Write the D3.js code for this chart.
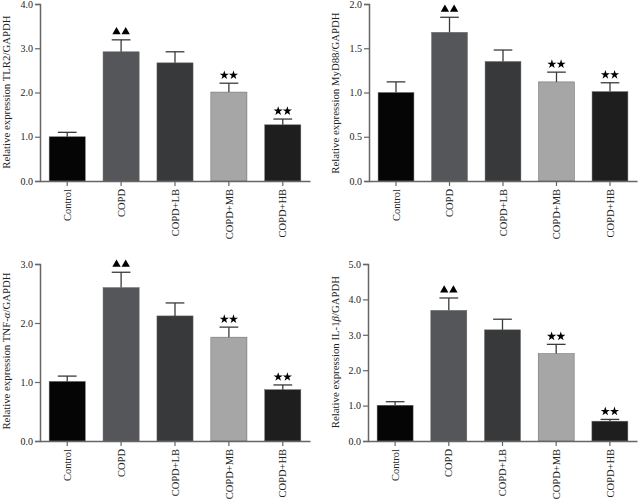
<!DOCTYPE html>
<html>
<head>
<meta charset="utf-8">
<script src="https://cdn.jsdelivr.net/npm/d3@7"></script>
<style>
  body { margin: 0; background: #fff; }
  svg { display: block; }
  .tick text { font-family: "Liberation Serif", "Times New Roman", serif; fill: #222; }
</style>
</head>
<body>
<svg id="chart" width="638" height="503"></svg>
<script>
// groups shared by all four panels
var groups = ["Control", "COPD", "COPD+LB", "COPD+MB", "COPD+HB"];
var barColors = ["#050505", "#55565a", "#38393b", "#a6a6a6", "#1e1e1e"];

// means and upper error (SD)
var tlr2 = [1.00, 2.92, 2.67, 2.01, 1.27];
var tlr2Err = [0.10, 0.27, 0.25, 0.20, 0.13];
var myd88 = [1.00, 1.68, 1.35, 1.12, 1.01];
var myd88Err = [0.12, 0.17, 0.13, 0.11, 0.10];
var tnf = [1.01, 2.60, 2.12, 1.76, 0.87];
var tnfErr = [0.09, 0.26, 0.22, 0.17, 0.08];
var il1b = [1.01, 3.69, 3.14, 2.47, 0.56];
var il1bErr = [0.10, 0.35, 0.30, 0.26, 0.05];

// significance markers above each bar
var marks = ["", "triangle", "", "star", "star"];

// y tick values
var tlr2Ticks = [0, 1, 2, 3, 4];
var myd88Ticks = [0, 0.5, 1, 1.5, 2];
var tnfTicks = [0, 1, 2, 3];
var il1bTicks = [0, 1, 2, 3, 4, 5];

var svg = d3.select("#chart");

// panel layout: left = y axis x, top = y of max tick, bottom = baseline, right = end of x axis
var panels = [
  {vals: tlr2, err: tlr2Err, ticks: tlr2Ticks, max: 4, left: 40, right: 310, top: 4, bottom: 181,
   label: ["Relative expression TLR2/GAPDH"], lx: 10, ly: 92},
  {vals: myd88, err: myd88Err, ticks: myd88Ticks, max: 2, left: 369, right: 637, top: 4, bottom: 181,
   label: ["Relative expression MyD88/GAPDH"], lx: 339, ly: 93},
  {vals: tnf, err: tnfErr, ticks: tnfTicks, max: 3, left: 40, right: 310, top: 264, bottom: 441,
   label: ["Relative expression TNF-", "α", "/GAPDH"], lx: 10, ly: 351},
  {vals: il1b, err: il1bErr, ticks: il1bTicks, max: 5, left: 368, right: 637, top: 264, bottom: 441,
   label: ["Relative expression IL-1", "β", "/GAPDH"], lx: 339, ly: 352}
];

panels.forEach(function(p) {
  var x = d3.scaleBand().domain(groups).range([p.left, p.right])
      .paddingInner(0.33).paddingOuter(0.17);
  var y = d3.scaleLinear().domain([0, p.max]).range([p.bottom, p.top]);
  var g = svg.append("g");

  // bars
  g.selectAll("rect.bar").data(p.vals).enter().append("rect")
    .attr("class", "bar")
    .attr("x", function(d, i) { return x(groups[i]); })
    .attr("width", x.bandwidth())
    .attr("y", function(d) { return y(d); })
    .attr("height", function(d) { return y(0) - y(d); })
    .attr("fill", function(d, i) { return barColors[i]; })
    .attr("stroke", "#666").attr("stroke-width", 0.5);

  // error bars (upper only)
  var cap = x.bandwidth() * 0.26;
  p.vals.forEach(function(v, i) {
    var cx = x(groups[i]) + x.bandwidth() / 2;
    var top = y(v + p.err[i]);
    g.append("line").attr("x1", cx).attr("x2", cx).attr("y1", y(v)).attr("y2", top)
      .attr("stroke", "#3a3a3a").attr("stroke-width", 1.3);
    g.append("line").attr("x1", cx - cap).attr("x2", cx + cap).attr("y1", top).attr("y2", top)
      .attr("stroke", "#3a3a3a").attr("stroke-width", 1.3);
    if (marks[i]) {
      var sym = marks[i] == "triangle" ? d3.symbolTriangle : d3.symbolStar;
      var size = marks[i] == "triangle" ? 30 : 26;
      [-4.6, 4.6].forEach(function(dx) {
        g.append("path")
          .attr("d", d3.symbol().type(sym).size(size)())
          .attr("transform", "translate(" + (cx + dx) + "," + (top - 8) + ")")
          .attr("fill", "#000");
      });
    }
  });

  // y axis
  var yAxis = g.append("g").attr("transform", "translate(" + p.left + ",0)")
    .call(d3.axisLeft(y).tickValues(p.ticks).tickFormat(d3.format(".1f")).tickSize(5).tickPadding(2));
  yAxis.selectAll("text").style("font-size", "10px");

  // x axis
  var xAxis = g.append("g").attr("transform", "translate(0," + p.bottom + ")")
    .call(d3.axisBottom(x).tickSize(5).tickSizeOuter(0).tickPadding(3));
  xAxis.selectAll("text")
    .style("font-size", "10.5px")
    .attr("text-anchor", "end")
    .attr("dy", "0.35em")
    .attr("transform", "translate(0,3) rotate(-90)")
    .attr("x", -5).attr("y", 0);

  [yAxis, xAxis].forEach(function(a) {
    a.select(".domain").attr("stroke", "#666").attr("stroke-width", 1.5);
    a.selectAll(".tick line").attr("stroke", "#666").attr("stroke-width", 1.2);
  });

  // y label
  var t = g.append("text")
    .attr("transform", "translate(" + p.lx + "," + p.ly + ") rotate(-90)")
    .attr("text-anchor", "middle")
    .style("font-family", "'Liberation Serif', 'Times New Roman', serif")
    .style("font-size", "10.8px")
    .attr("fill", "#222");
  p.label.forEach(function(s, k) {
    t.append("tspan").text(s).style("font-style", k == 1 ? "italic" : "normal");
  });
});
</script>
</body>
</html>
